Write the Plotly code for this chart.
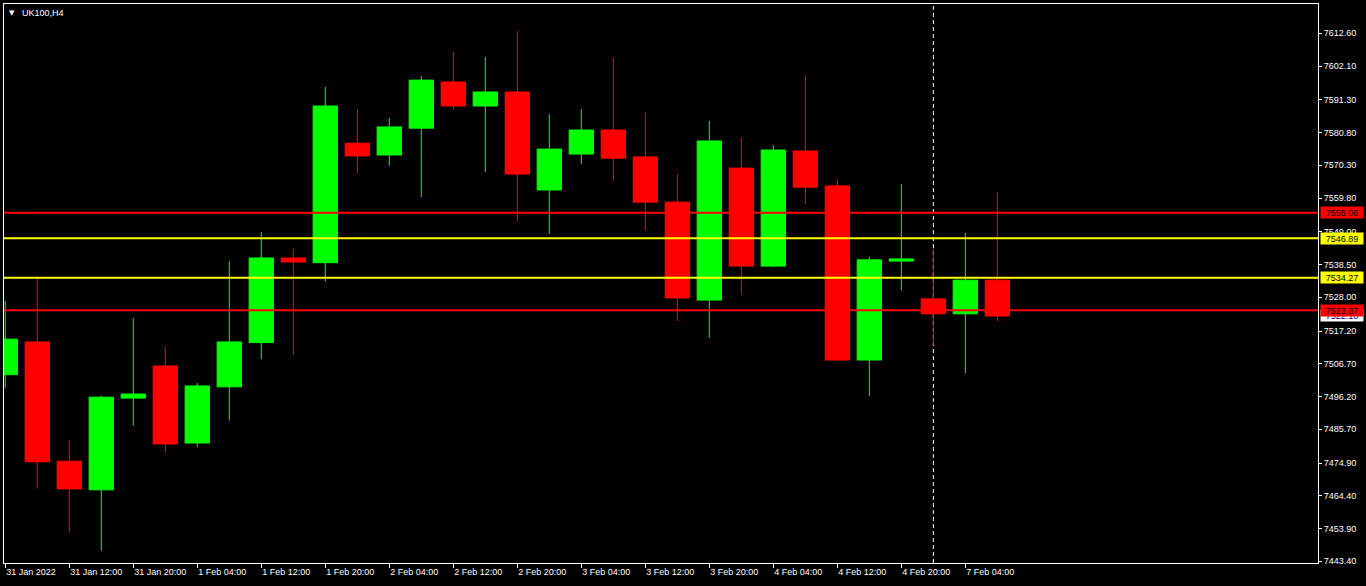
import plotly.graph_objects as go

# ---- data ----
times = ["31 Jan 04:00", "31 Jan 08:00", "31 Jan 12:00", "31 Jan 16:00", "31 Jan 20:00",
         "1 Feb 00:00", "1 Feb 04:00", "1 Feb 08:00", "1 Feb 12:00", "1 Feb 16:00", "1 Feb 20:00",
         "2 Feb 00:00", "2 Feb 04:00", "2 Feb 08:00", "2 Feb 12:00", "2 Feb 16:00", "2 Feb 20:00",
         "3 Feb 00:00", "3 Feb 04:00", "3 Feb 08:00", "3 Feb 12:00", "3 Feb 16:00", "3 Feb 20:00",
         "4 Feb 00:00", "4 Feb 04:00", "4 Feb 08:00", "4 Feb 12:00", "4 Feb 16:00", "4 Feb 20:00",
         "7 Feb 00:00", "7 Feb 04:00", "7 Feb 08:00"]
opens  = [7503.2, 7513.7, 7475.5, 7466.3, 7495.7, 7506.0, 7481.3, 7499.3, 7513.5, 7540.6, 7539.1,
          7577.4, 7573.6, 7582.2, 7597.0, 7589.3, 7593.8, 7562.4, 7573.9, 7581.6, 7573.0, 7558.5,
          7527.1, 7569.4, 7538.0, 7574.9, 7563.7, 7507.9, 7539.6, 7527.5, 7522.7, 7533.5]
highs  = [7526.8, 7534.2, 7482.3, 7496.4, 7521.4, 7512.1, 7500.5, 7539.6, 7548.9, 7543.5, 7595.4,
          7588.3, 7585.5, 7598.9, 7606.6, 7605.0, 7613.3, 7586.7, 7588.3, 7604.7, 7587.1, 7567.5,
          7584.5, 7579.0, 7576.8, 7599.2, 7565.9, 7541.0, 7564.3, 7543.8, 7548.6, 7561.7]
lows   = [7499.0, 7466.7, 7452.6, 7446.8, 7486.9, 7478.4, 7480.0, 7488.5, 7508.2, 7509.6, 7533.0,
          7567.8, 7570.1, 7560.1, 7588.3, 7568.1, 7552.4, 7548.3, 7570.7, 7565.3, 7549.6, 7520.4,
          7515.0, 7528.7, 7537.6, 7557.9, 7507.6, 7496.4, 7530.3, 7512.7, 7503.7, 7520.4]
closes = [7514.6, 7475.3, 7466.6, 7496.0, 7497.0, 7481.0, 7499.6, 7513.7, 7540.6, 7539.3, 7589.3,
          7573.3, 7582.6, 7597.6, 7589.3, 7593.8, 7567.5, 7575.5, 7581.6, 7572.6, 7558.5, 7527.8,
          7578.1, 7538.0, 7575.2, 7563.3, 7507.9, 7540.0, 7540.3, 7522.7, 7533.5, 7522.0]

tick_times = ["31 Jan 04:00", "31 Jan 12:00", "31 Jan 20:00", "1 Feb 04:00", "1 Feb 12:00",
              "1 Feb 20:00", "2 Feb 04:00", "2 Feb 12:00", "2 Feb 20:00", "3 Feb 04:00",
              "3 Feb 12:00", "3 Feb 20:00", "4 Feb 04:00", "4 Feb 12:00", "4 Feb 20:00", "7 Feb 04:00"]
tick_labels = ["31 Jan 2022", "31 Jan 12:00", "31 Jan 20:00", "1 Feb 04:00", "1 Feb 12:00",
               "1 Feb 20:00", "2 Feb 04:00", "2 Feb 12:00", "2 Feb 20:00", "3 Feb 04:00",
               "3 Feb 12:00", "3 Feb 20:00", "4 Feb 04:00", "4 Feb 12:00", "4 Feb 20:00", "7 Feb 04:00"]

price_ticks = [7612.60, 7602.10, 7591.30, 7580.80, 7570.30, 7559.80, 7549.00, 7538.50, 7528.00,
               7517.20, 7506.70, 7496.20, 7485.70, 7474.90, 7464.40, 7453.90, 7443.40]

level_values = [7555.06, 7546.89, 7534.27, 7523.87]
level_colors = ["#FF0000", "#FFFF00", "#FFFF00", "#FF0000"]
bid_price = 7522.10
week_separators = ["7 Feb 00:00"]

FONT = "Liberation Sans, Arial, sans-serif"

fig = go.Figure()
fig.add_trace(go.Candlestick(
    x=times, open=opens, high=highs, low=lows, close=closes,
    increasing=dict(line=dict(color="#00FF00", width=1), fillcolor="#00FF00"),
    decreasing=dict(line=dict(color="#FF0000", width=1), fillcolor="#FF0000"),
    whiskerwidth=0, showlegend=False, name="UK100,H4",
))

shapes = []
for t in week_separators:
    shapes.append(dict(type="line", xref="x", yref="paper", x0=t, x1=t, y0=0, y1=1,
                       line=dict(color="white", width=1, dash="4px,3px"), layer="below"))
for v, c in zip(level_values, level_colors):
    shapes.append(dict(type="line", xref="paper", yref="y", x0=0, x1=1, y0=v, y1=v,
                       line=dict(color=c, width=2), layer="above"))

annotations = [
    dict(text="▼", xref="paper", yref="paper", x=0, y=1, xanchor="left", yanchor="top",
         xshift=3, yshift=-3, showarrow=False, font=dict(family="DejaVu Sans", size=7, color="white")),
    dict(text="UK100,H4", xref="paper", yref="paper", x=0, y=1, xanchor="left", yanchor="top",
         xshift=16, yshift=-2, showarrow=False, font=dict(family=FONT, size=9, color="white")),
    dict(text=f"{bid_price:.2f}", xref="paper", yref="y", x=1, y=bid_price, xanchor="left",
         yanchor="middle", xshift=2, showarrow=False, bgcolor="white", width=40, height=9,
         borderpad=1, font=dict(family=FONT, size=9, color="#000080")),
]
for v, c in zip(level_values, level_colors):
    annotations.append(dict(text=f"{v:.2f}", xref="paper", yref="y", x=1, y=v, xanchor="left",
                            yanchor="middle", xshift=2, showarrow=False, bgcolor=c, width=40,
                            height=9, borderpad=1, font=dict(family=FONT, size=9, color="black")))

fig.update_layout(
    width=1366, height=586,
    margin=dict(l=4, r=48, t=4, b=23),
    paper_bgcolor="black", plot_bgcolor="black",
    font=dict(family=FONT, size=9, color="white"),
    boxgap=0.24, boxgroupgap=0,
    shapes=shapes, annotations=annotations,
    xaxis=dict(type="category", range=[-0.04, 41.02], rangeslider=dict(visible=False),
               showgrid=False, zeroline=False, showline=True, mirror=True, linecolor="white",
               linewidth=1, ticks="outside", ticklen=4, tickcolor="white",
               tickvals=tick_times, ticktext=tick_labels, ticklabelposition="outside right",
               tickfont=dict(family=FONT, size=9, color="white")),
    yaxis=dict(side="right", range=[7442.86, 7621.99], showgrid=False, zeroline=False,
               showline=True, mirror=True, linecolor="white", linewidth=1,
               ticks="outside", ticklen=3, tickcolor="white",
               tickvals=price_ticks, ticktext=[f"{p:.2f}" for p in price_ticks],
               tickfont=dict(family=FONT, size=9, color="white")),
)

fig.write_html("out.html", config={"displayModeBar": False},
               post_script="document.body.style.margin='0';document.body.style.padding='0';"
                           "document.body.style.background='black';")
